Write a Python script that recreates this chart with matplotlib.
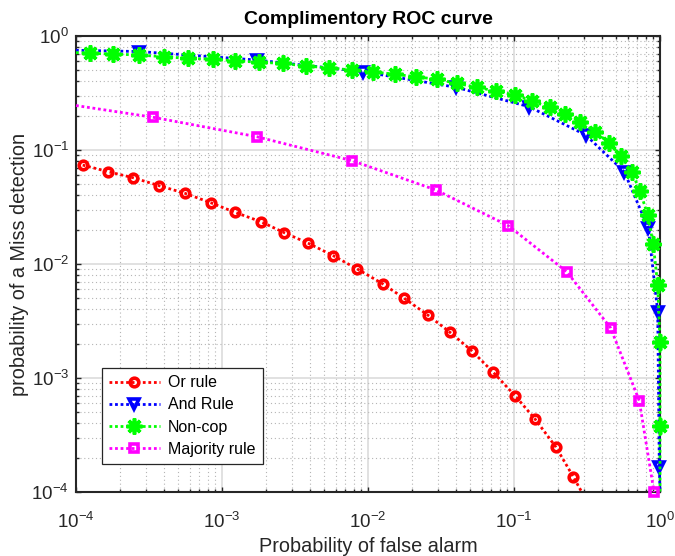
import matplotlib
matplotlib.use('Agg')
import matplotlib.pyplot as plt

plt.rcParams['font.family'] = ['Liberation Sans', 'DejaVu Sans']

# Or rule (markers on every point, line runs out through the bottom edge)
or_pf = [1.111e-4, 1.664e-4, 2.47e-4, 3.72e-4, 5.58e-4, 8.37e-4, 1.227e-3, 1.849e-3,
         2.67e-3, 3.90e-3, 5.78e-3, 8.45e-3, 1.257e-2, 1.773e-2, 2.565e-2, 3.64e-2,
         5.13e-2, 7.21e-2, 0.1016, 0.1393, 0.194, 0.2547, 0.291]
or_pm = [0.0738, 0.0645, 0.0571, 0.0486, 0.0417, 0.0345, 0.0284, 0.0235,
         0.01882, 0.0152, 0.01183, 0.00904, 0.00672, 0.0050, 0.00357, 0.00252,
         1.736e-3, 1.122e-3, 7.0e-4, 4.37e-4, 2.47e-4, 1.36e-4, 1e-4]

# And rule
and_pf = [1e-4, 2.71e-4, 1.729e-3, 9.29e-3, 4.01e-2, 0.1267, 0.310, 0.569, 0.832,
          0.964, 0.989, 1.0]
and_pm = [0.75, 0.731, 0.616, 0.486, 0.355, 0.240, 0.1354, 0.0645, 0.0206,
          0.00382, 1.67e-4, 1e-4]

# Non-cooperative (single user)
noncop_pf = [1e-4, 1.247e-4, 1.80e-4, 2.71e-4, 4.01e-4, 5.87e-4, 8.64e-4, 1.233e-3,
             1.80e-3, 2.61e-3, 3.74e-3, 5.38e-3, 7.73e-3, 1.086e-2, 1.53e-2, 2.13e-2,
             2.95e-2, 4.05e-2, 5.55e-2, 7.53e-2, 0.1016, 0.1322, 0.1764, 0.2234,
             0.283, 0.359, 0.447, 0.538, 0.640, 0.729, 0.824, 0.899, 0.964, 1.0,
             1.0, 1.0]
noncop_pm = [0.715, 0.705, 0.695, 0.681, 0.658, 0.637, 0.625, 0.607,
             0.588, 0.576, 0.545, 0.527, 0.503, 0.486, 0.461, 0.440,
             0.417, 0.385, 0.355, 0.329, 0.304, 0.269, 0.237, 0.207,
             0.177, 0.1447, 0.1159, 0.0886, 0.0645, 0.0437, 0.0269, 0.0149,
             0.00654, 0.00208, 3.79e-4, 1e-4]

# Majority rule
maj_pf = [1e-4, 3.385e-4, 1.729e-3, 7.81e-3, 2.92e-2, 0.091, 0.2296, 0.459, 0.721, 0.910]
maj_pm = [0.2456, 0.1936, 0.1309, 0.0805, 0.0446, 0.02176, 0.00856, 0.00275, 6.32e-4, 1e-4]

labels = ['Or rule', 'And Rule', 'Non-cop', 'Majority rule']

fig = plt.figure(figsize=(6.75, 5.56), dpi=100)
ax = fig.add_axes([0.1126, 0.1151, 0.8652, 0.8201])

dots = (0, (1, 1))
common = dict(linestyle=dots, linewidth=2.0, mfc='none', clip_on=False, zorder=3)

ax.plot(or_pf, or_pm, color='#ff0000', marker='o', ms=6.2, mew=2.6,
        markevery=list(range(0, len(or_pf) - 1)), label=labels[0], **common)
ax.plot(and_pf, and_pm, color='#0000ff', marker='v', ms=7.5, mew=2.6,
        markevery=list(range(1, len(and_pf) - 1)), label=labels[1], **common)
ax.plot(noncop_pf, noncop_pm, color='#00ff00', marker=(8, 2, 0), ms=11.5, mew=2.6,
        markevery=list(range(1, len(noncop_pf) - 1)), label=labels[2], **common)
ax.plot(maj_pf, maj_pm, color='#ff00ff', marker='s', ms=6.0, mew=2.6,
        markevery=list(range(1, len(maj_pf))), label=labels[3], **common)

ax.set_xscale('log')
ax.set_yscale('log')
ax.set_xlim(1e-4, 1)
ax.set_ylim(1e-4, 1)

ax.grid(True, which='major', color='#d9d9d9', linestyle='-', linewidth=1.1)
ax.grid(True, which='minor', color='#b5b5b5', linestyle=(0, (1, 2.5)), linewidth=0.8)
ax.set_axisbelow(True)

for s in ax.spines.values():
    s.set_linewidth(1.5)
    s.set_color('#262626')
ax.tick_params(which='both', direction='in', top=True, right=True, color='#262626',
               labelsize=13.5, labelcolor='#262626')
ax.tick_params(which='major', length=3.5, width=1.0)
ax.tick_params(which='minor', length=2.5, width=1.0)
ax.tick_params(axis='x', which='major', pad=14)
ax.tick_params(axis='y', which='major', pad=5)

ax.set_title('Complimentory ROC curve', fontsize=14, fontweight='bold', pad=9)
ax.set_xlabel('Probability of false alarm', fontsize=14.3, color='#262626', labelpad=4)
ax.set_ylabel('probability of a Miss detection', fontsize=14.3, color='#262626', labelpad=2)

leg = ax.legend(loc='lower left', bbox_to_anchor=(0.044, 0.0614), borderaxespad=0,
                fontsize=11.5, handlelength=3.2, handletextpad=0.5, borderpad=0.45,
                labelspacing=0.45, fancybox=False, framealpha=1, edgecolor='#262626')
leg.get_frame().set_linewidth(0.9)

fig.savefig('out.png', dpi=100)
